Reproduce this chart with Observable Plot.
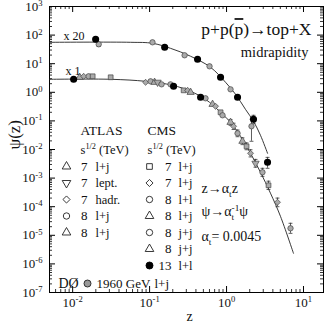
<!DOCTYPE html>
<html><head><meta charset="utf-8">
<script src="https://cdn.jsdelivr.net/npm/d3@7"></script>
<script src="https://cdn.jsdelivr.net/npm/@observablehq/plot@0.6"></script>
<style>
html,body{margin:0;padding:0;background:#fff;}
#chart{width:327px;height:327px;}
</style></head><body><div id="chart"></div>
<script>
// ---------- data ----------
// fitted curves
const curveLoZ   = [0.00503,0.0312,0.0887,0.199,0.341,0.533,0.836,1.127,1.52,2.05,2.76,3.72,5.02,7.41];
const curveLoPsi = [2.85,2.85,2.42,1.76,1.08,0.569,0.200,0.0893,0.0289,0.00736,0.00160,2.98e-4,4.62e-5,2.35e-6];
const curveUpZ   = [0.00503,0.0567,0.109,0.187,0.341,0.620,0.970,1.31,1.76,2.24,2.76,3.41];
const curveUpPsi = [56,56,51.7,34.5,18.2,7.48,2.24,0.851,0.255,0.0968,0.0314,0.00736];

// upper (x 20) points
const upBlackZ   = [0.0199,0.157,0.420,0.836,1.39,2.24];
const upBlackPsi = [71.3,37.4,14.3,3.35,0.669,0.114];
const upBlackLo  = [null,null,null,null,null,0.082];
const upBlackHi  = [null,null,null,null,null,0.157];
const upGreyZ    = [0.0218,0.109,0.285,0.601,1.127,2.11];
const upGreyPsi  = [47.7,56.0,19.7,8.11,1.27,0.065];
const upGreyLo   = [40,null,null,null,null,0.0194];
const upGreyHi   = [52,null,null,null,null,0.114];

// lower (x 1) points
const loZ   = [0.0103,0.01233,0.0139,0.01614,0.0182,0.0312,0.0887,0.103,0.116,0.127,0.143,0.187,0.205,0.277,0.312,0.341,0.460,0.533,0.658,0.720,0.836,0.887,1.127,1.233,1.39,1.61,1.82,2.05,2.38,2.93,3.41,3.51,4.59,6.78];
const loPsi = [2.85,3.35,3.63,3.63,3.63,3.35,2.24,2.42,2.24,2.24,1.90,1.90,1.62,1.17,1.17,1.0,0.669,0.617,0.380,0.324,0.200,0.157,0.0893,0.0648,0.0368,0.0194,0.0129,0.00736,0.00329,0.00160,0.00357,5.6e-4,1.43e-4,1.76e-5];
const loSym = ["b","t","d","c","s","s","d","c","t","v","c","g","b","s","d","t","b","c","t","d","s","c","t","d","c","t","s","d","v","c","b","s","d","c"];
const loErrLo = [null,null,null,null,null,null,null,null,null,null,null,null,null,null,null,null,null,null,null,null,null,null,0.070,0.050,0.028,0.0148,0.0098,0.0055,0.0024,0.00115,0.0022,4.0e-4,1.0e-4,1.17e-5];
const loErrHi = [null,null,null,null,null,null,null,null,null,null,null,null,null,null,null,null,null,null,null,null,null,null,0.112,0.083,0.048,0.0255,0.017,0.0098,0.0045,0.0022,0.0053,7.8e-4,2.0e-4,2.63e-5];

// axis ticks
const yExp = [-7,-6,-5,-4,-3,-2,-1,0,1,2,3];
const xExp = [-2,-1,0,1];

// legend text
const atlasSym = ["t","v","d","c","t"];
const atlasNum = ["7","7","7","8","8"];
const atlasLab = ["l+j","lept.","hadr.","l+j","l+j"];
const cmsSym = ["s","d","c","t","c","t","b"];
const cmsNum = ["7","7","8","8","8","8","13"];
const cmsLab = ["l+j","l+j","l+l","l+j","j+j","j+j","l+l"];

// ---------- layout ----------
const W = 327, H = 327, ML = 49, MR = 4, MT = 6, MB = 35;
const FW = W - ML - MR, FH = H - MT - MB;
const at = (px, py) => ({frameAnchor: "top-left", dx: px - ML, dy: py - MT});
const symName = {t:"triangle", v:"triangle", d:"diamond2", c:"circle", s:"square", b:"circle", g:"circle"};

const lowerPts = loZ.map((z,i) => ({z, psi: loPsi[i], sym: loSym[i], lo: loErrLo[i], hi: loErrHi[i]}));
const upBlack = upBlackZ.map((z,i) => ({z, psi: upBlackPsi[i], sym: "b", lo: upBlackLo[i], hi: upBlackHi[i]}));
const upGrey = upGreyZ.map((z,i) => ({z, psi: upGreyPsi[i], sym: "g", lo: upGreyLo[i], hi: upGreyHi[i]}));
const allPts = lowerPts.concat(upBlack, upGrey);
const errPts = allPts.filter(d => d.lo != null);
const greyPts = allPts.filter(d => d.sym !== "b");
const blackPts = allPts.filter(d => d.sym === "b");
const curveLo = curveLoZ.map((z,i) => ({z, psi: curveLoPsi[i]}));
const curveUp = curveUpZ.map((z,i) => ({z, psi: curveUpPsi[i]}));

const yMajor = yExp.map(e => Math.pow(10, e));
const yMinor = yExp.slice(0,-1).flatMap(e => d3.range(2,10).map(k => k*Math.pow(10,e)));
const xMajor = xExp.map(e => Math.pow(10, e));
const xMinor = [-3,-2,-1,0,1].flatMap(e => d3.range(2,10).map(k => k*Math.pow(10,e))).filter(v => v >= 0.005 && v <= 18.2);

const serif = "Liberation Serif";
const T = (s, px, py, o={}) => Plot.text([s], {...at(px,py), text: d => d, textAnchor: "start", lineAnchor: "middle", fontSize: 13, fill: "#111", ...o});
const legendDot = (sym, px, py) => Plot.dot([0], {...at(px,py), symbol: symName[sym], rotate: sym === "v" ? 180 : 0, r: sym === "b" || sym === "g" ? 3.5 : 3.2,
  fill: sym === "b" ? "black" : sym === "g" ? "#999" : "white", stroke: sym === "b" ? "black" : "#222", strokeWidth: 0.9});

const marks = [
  Plot.frame({stroke: "black", strokeWidth: 1}),
  // ticks (inward)
  Plot.tickY(yMajor, {y: d => d, insetRight: FW - 6, stroke: "black"}),
  Plot.tickY(yMajor, {y: d => d, insetLeft: FW - 6, stroke: "black"}),
  Plot.tickY(yMinor, {y: d => d, insetRight: FW - 3, stroke: "black", strokeWidth: 0.8}),
  Plot.tickY(yMinor, {y: d => d, insetLeft: FW - 3, stroke: "black", strokeWidth: 0.8}),
  Plot.tickX(xMajor, {x: d => d, insetTop: FH - 6, stroke: "black"}),
  Plot.tickX(xMajor, {x: d => d, insetBottom: FH - 6, stroke: "black"}),
  Plot.tickX(xMinor, {x: d => d, insetTop: FH - 3, stroke: "black", strokeWidth: 0.8}),
  Plot.tickX(xMinor, {x: d => d, insetBottom: FH - 3, stroke: "black", strokeWidth: 0.8}),
  // tick labels
  Plot.text(yExp, {y: d => Math.pow(10, d), frameAnchor: "left", dx: -7, textAnchor: "end", text: d => "10^{" + d + "}", fontSize: 13, fill: "#111"}),
  Plot.text(xExp, {x: d => Math.pow(10, d), frameAnchor: "bottom", dy: 14, text: d => "10^{" + d + "}", fontSize: 13, fill: "#111"}),
  // axis titles
  Plot.text(["ψ(z)"], {frameAnchor: "left", dx: -35, rotate: -90, text: d => d, fontSize: 17, fill: "#111"}),
  Plot.text(["z"], {frameAnchor: "bottom", dy: 28, dx: 3, text: d => d, fontSize: 14, fill: "#111"}),
  // curves
  Plot.line(curveLo, {x: "z", y: "psi", curve: "catmull-rom", stroke: "#222", strokeWidth: 0.9}),
  Plot.line(curveUp, {x: "z", y: "psi", curve: "catmull-rom", stroke: "#222", strokeWidth: 0.9}),
  // error bars
  Plot.ruleX(errPts, {x: "z", y1: "lo", y2: "hi", stroke: "#333", strokeWidth: 0.8}),
  Plot.link(errPts, {x1: d => d.z/1.06, x2: d => d.z*1.06, y1: "lo", y2: "lo", stroke: "#333", strokeWidth: 0.8}),
  Plot.link(errPts, {x1: d => d.z/1.06, x2: d => d.z*1.06, y1: "hi", y2: "hi", stroke: "#333", strokeWidth: 0.8}),
  // points
  Plot.dot(greyPts, {x: "z", y: "psi", symbol: "sym", rotate: d => d.sym === "v" ? 180 : 0, r: 2.7, fill: "#aaa", stroke: "#444", strokeWidth: 0.7}),
  Plot.dot(blackPts, {x: "z", y: "psi", symbol: "sym", r: 2.8, fill: "black", stroke: "black"}),
  // curve labels
  T("x 20", 63, 36, {fontSize: 12}),
  T("x 1", 65, 71, {fontSize: 12}),
  // title
  T("p+p(~{p})→top+X", 311, 29, {textAnchor: "end", fontSize: 17.5}),
  T("midrapidity", 308, 52, {textAnchor: "end", fontSize: 14.5}),
  // legend headers
  T("ATLAS", 80, 130, {fontSize: 13.5}),
  T("s^{1/2} (TeV)", 80, 149, {fontSize: 12.5}),
  T("CMS", 147, 130, {fontSize: 13.5}),
  T("s^{1/2} (TeV)", 147, 149, {fontSize: 12.5}),
  // annotations
  T("z→α_{t}z", 201, 188, {fontSize: 14}),
  T("ψ→α_{t}^{-1}ψ", 201, 211, {fontSize: 14}),
  T("α_{t}= 0.0045", 201, 236, {fontSize: 14}),
  // DØ row
  T("DØ", 58, 283, {fontSize: 14}),
  legendDot("g", 87, 283),
  T("1960 GeV", 96, 283, {fontSize: 13}),
  T("l+j", 154, 283, {fontSize: 13})
];
const rowY = i => 166 + 16.5 * i;
atlasSym.forEach((s, i) => {
  marks.push(legendDot(s, 66, rowY(i)));
  marks.push(T(atlasNum[i], 87, rowY(i), {textAnchor: "end"}));
  marks.push(T(atlasLab[i], 95, rowY(i), {fontSize: 12.5}));
});
cmsSym.forEach((s, i) => {
  marks.push(legendDot(s, 149, rowY(i)));
  marks.push(T(cmsNum[i], 171, rowY(i), {textAnchor: "end"}));
  marks.push(T(cmsLab[i], 178, rowY(i), {fontSize: 12.5}));
});

const plot = Plot.plot({
  width: W, height: H,
  marginLeft: ML, marginRight: MR, marginTop: MT, marginBottom: MB,
  style: {fontFamily: serif, background: "white"},
  x: {type: "log", domain: [0.005, 18.2], axis: null},
  y: {type: "log", domain: [1e-7, 1e3], axis: null},
  symbol: {domain: ["t","v","d","c","s","b","g"], range: ["triangle","triangle","diamond2","circle","square","circle","circle"]},
  marks
});
document.getElementById("chart").appendChild(plot);

// simple markup: ^{sup} _{sub} ~{overline}
d3.select(plot).selectAll("text").each(function() {
  const el = this;
  if (el.querySelector("tspan")) return;
  const s = el.textContent;
  if (!/[\^_~]\{/.test(s)) return;
  const fs = parseFloat(getComputedStyle(el).fontSize) || 12;
  const parts = []; const re = /([\^_~])\{([^}]*)\}/g; let last = 0, m;
  while ((m = re.exec(s))) { if (m.index > last) parts.push({t: s.slice(last, m.index), k: ""}); parts.push({t: m[2], k: m[1]}); last = re.lastIndex; }
  if (last < s.length) parts.push({t: s.slice(last), k: ""});
  el.textContent = "";
  let cur = 0, prevNode = null, prevK = "";
  for (const p of parts) {
    const ts = document.createElementNS("http://www.w3.org/2000/svg", "tspan");
    ts.textContent = p.t;
    let target = 0;
    if (p.k === "^") { target = -0.36 * fs; ts.setAttribute("font-size", (0.66 * fs) + "px"); }
    else if (p.k === "_") { target = 0.3 * fs; ts.setAttribute("font-size", (0.66 * fs) + "px"); }
    else if (p.k === "~") { ts.setAttribute("text-decoration", "overline"); }
    if (target !== cur) { ts.setAttribute("dy", target - cur); cur = target; }
    el.appendChild(ts);
    if (p.k === "^" && prevK === "_" && prevNode) ts.setAttribute("dx", -prevNode.getComputedTextLength());
    prevNode = ts; prevK = p.k;
  }
});
</script></body></html>
